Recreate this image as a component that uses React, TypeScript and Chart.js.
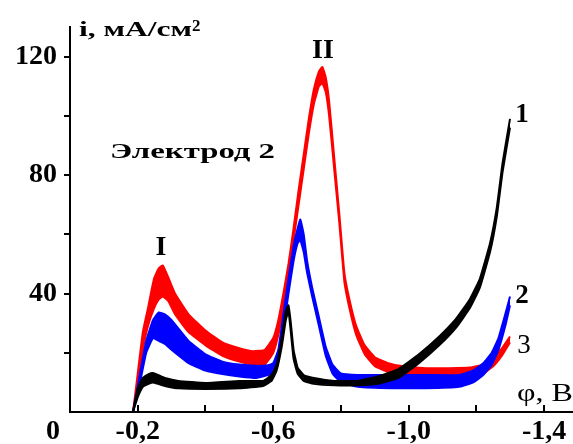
import React, { useEffect, useRef } from "react";
import { Chart, registerables } from "chart.js";

Chart.register(...registerables);

// Curve 1 (black): potential φ, V and lower / upper edge of the noisy trace, mA/cm²
const phi1 = [-0.186, -0.2, -0.215, -0.232, -0.245, -0.26, -0.28, -0.32, -0.4, -0.5, -0.57, -0.595, -0.61, -0.625, -0.637, -0.645, -0.652, -0.66, -0.672, -0.69, -0.72, -0.78, -0.85, -0.91, -0.97, -1.03, -1.09, -1.14, -1.18, -1.21, -1.24, -1.26, -1.277, -1.299];
const lo1 = [0, 5, 8.5, 9.5, 10, 9.5, 8.8, 8, 7.8, 8, 8.8, 10.5, 14, 22, 31, 34, 27, 18, 13, 10.5, 9.5, 9, 9, 9.5, 11.5, 16.5, 22.5, 28.5, 35, 42, 54, 66, 81, 96];
const hi1 = [0, 8, 11.5, 12.8, 13.2, 12.5, 11.5, 10.5, 9.8, 10.5, 10.5, 12.5, 16, 25, 34, 36, 30, 21, 15, 12.5, 11.5, 10.5, 10.5, 12, 14.5, 19.5, 25.5, 31.5, 38, 45, 57, 69, 84, 99];

// Curve 2 (blue)
const phi2 = [-0.186, -0.205, -0.225, -0.245, -0.262, -0.28, -0.3, -0.35, -0.4, -0.45, -0.5, -0.55, -0.585, -0.6, -0.615, -0.63, -0.645, -0.66, -0.672, -0.68, -0.69, -0.7, -0.715, -0.735, -0.755, -0.775, -0.8, -0.85, -0.95, -1.05, -1.15, -1.19, -1.22, -1.245, -1.265, -1.285, -1.299];
const lo2 = [0, 9, 20, 25, 24, 23, 21, 16.5, 14, 12.8, 12, 11.5, 12.5, 13, 17, 28, 40, 51, 57, 58, 54, 47, 39, 29, 19, 13, 10, 8.5, 8, 8, 8.5, 10, 12.5, 16, 21, 29, 36];
const hi2 = [0, 12, 24, 31, 33.6, 33, 31, 24, 19.5, 17, 16, 15.6, 15.8, 16.5, 21, 33, 45, 56, 62, 65, 60, 51, 42, 32, 22, 16, 13, 12.5, 12.5, 12.5, 12.5, 14, 16.5, 20, 25, 33, 39];

// Curve 3 (red)
const phi3 = [-0.186, -0.2, -0.215, -0.23, -0.248, -0.262, -0.274, -0.29, -0.31, -0.35, -0.4, -0.45, -0.5, -0.54, -0.575, -0.6, -0.615, -0.63, -0.645, -0.66, -0.675, -0.69, -0.705, -0.72, -0.735, -0.745, -0.755, -0.765, -0.78, -0.795, -0.81, -0.825, -0.845, -0.87, -0.9, -0.94, -0.98, -1.05, -1.12, -1.18, -1.22, -1.25, -1.275, -1.299];
const lo3 = [0, 10, 21, 29, 35, 38, 39, 37.5, 33, 27, 22.5, 19, 17, 16, 16, 20, 26, 35, 46, 58, 70, 82, 94, 104, 110, 111, 108, 100, 82, 64, 44, 35, 26, 19.5, 15.5, 13.5, 12.5, 12, 12, 12, 13, 15.5, 19, 23.5];
const hi3 = [0, 13, 27, 35, 45, 48.5, 49.5, 45.5, 40, 33, 27.5, 23.5, 21.5, 20.5, 21, 25, 31, 40, 50, 62, 75, 87, 99, 109, 115, 116.5, 113, 105, 86, 67, 47, 38, 29, 22.5, 18.5, 16.5, 15.5, 14.8, 14.8, 15, 16, 18.5, 21.5, 25.5];

const xLabelValues = [-0.2, -0.6, -1.0, -1.4];
const yLabelValues = [40, 80, 120];

const FAMILY = "'Liberation Serif', 'Times New Roman', serif";
const X_PAD = 3;

function band(phi: number[], lo: number[], hi: number[], color: string) {
  const common = {
    borderColor: color,
    backgroundColor: color,
    borderWidth: 2,
    pointRadius: 0,
    tension: 0.12,
  };
  return [
    { ...common, data: phi.map((x, i) => ({ x, y: lo[i] })), fill: false },
    { ...common, data: phi.map((x, i) => ({ x, y: hi[i] })), fill: "-1" },
  ];
}

function drawText(
  ctx: CanvasRenderingContext2D,
  text: string,
  x: number,
  y: number,
  font: string,
  align: CanvasTextAlign,
  baseline: CanvasTextBaseline,
  targetWidth?: number
) {
  ctx.save();
  ctx.font = font;
  ctx.fillStyle = "#000";
  ctx.textAlign = align;
  ctx.textBaseline = baseline;
  if (targetWidth) {
    const w = ctx.measureText(text).width;
    const sx = targetWidth / w;
    ctx.translate(x, y);
    ctx.scale(sx, 1);
    ctx.fillText(text, 0, 0);
  } else {
    ctx.fillText(text, x, y);
  }
  ctx.restore();
}

const annotations = {
  id: "annotations",
  beforeDatasetsDraw(chart: any) {
    const ctx = chart.ctx as CanvasRenderingContext2D;
    const xs = chart.scales.x;
    const ys = chart.scales.y;
    ctx.save();
    ctx.strokeStyle = "#000";
    ctx.lineWidth = 2;
    xs.ticks.forEach((t: any) => {
      if (Math.abs(t.value) < 1e-9) return;
      const px = Math.round(xs.getPixelForValue(t.value));
      ctx.beginPath();
      ctx.moveTo(px, ys.bottom);
      ctx.lineTo(px, ys.bottom - 7);
      ctx.stroke();
    });
    ctx.restore();
  },
  afterDraw(chart: any) {
    const ctx = chart.ctx as CanvasRenderingContext2D;
    const xs = chart.scales.x;
    // "0" label of the x axis, set left of the axis corner
    drawText(ctx, "0", xs.getPixelForValue(0) - 17, xs.top + X_PAD + 16.8, `bold 28px ${FAMILY}`, "center", "middle");
    // axis titles
    drawText(ctx, "i, мА/см", 79, 36, `bold 22px ${FAMILY}`, "left", "alphabetic", 113);
    drawText(ctx, "2", 192, 31, `bold 17px ${FAMILY}`, "left", "alphabetic");
    drawText(ctx, "φ, В", 517, 394, `26px ${FAMILY}`, "left", "middle", 56);
    drawText(ctx, "Электрод 2", 110, 152, `bold 22px ${FAMILY}`, "left", "middle", 165);
    // peak labels
    drawText(ctx, "I", 161, 248, `bold 28px ${FAMILY}`, "center", "middle");
    drawText(ctx, "II", 323, 51, `bold 28px ${FAMILY}`, "center", "middle");
    // curve numbers
    drawText(ctx, "1", 522, 115, `bold 27px ${FAMILY}`, "center", "middle");
    drawText(ctx, "2", 522, 296, `bold 27px ${FAMILY}`, "center", "middle");
    drawText(ctx, "3", 524, 346, `27px ${FAMILY}`, "center", "middle");
  },
};

export default function App() {
  const ref = useRef<HTMLCanvasElement>(null);

  useEffect(() => {
    if (!ref.current) return;
    const datasets = [
      ...band(phi1, lo1, hi1, "#000000"),
      ...band(phi2, lo2, hi2, "#0000ff"),
      ...band(phi3, lo3, hi3, "#ff0000"),
    ];
    const chart = new Chart(ref.current, {
      type: "line",
      data: { datasets: datasets as any },
      options: {
        animation: false,
        responsive: true,
        maintainAspectRatio: false,
        layout: { padding: { top: 27, left: 0, right: 0, bottom: 0 } },
        plugins: {
          legend: { display: false },
          tooltip: { enabled: false },
        },
        scales: {
          x: {
            type: "linear",
            min: -1.485,
            max: 0,
            reverse: true,
            grid: { display: false, drawTicks: false },
            border: { display: true, color: "#000", width: 2 },
            ticks: {
              stepSize: 0.2,
              includeBounds: false,
              autoSkip: false,
              maxRotation: 0,
              padding: X_PAD,
              color: "#000",
              font: { family: FAMILY, size: 28, weight: "bold" },
              callback: (value: any) => {
                const v = Math.round(Number(value) * 10) / 10;
                return xLabelValues.some((l) => Math.abs(l - v) < 1e-6)
                  ? v.toFixed(1).replace(".", ",")
                  : "";
              },
            },
            afterFit: (s: any) => {
              s.height = 32;
            },
          },
          y: {
            type: "linear",
            min: 0,
            max: 130,
            grid: {
              display: true,
              drawOnChartArea: false,
              drawTicks: true,
              tickLength: 6,
              tickWidth: 2,
              lineWidth: 2,
              color: (c: any) => (c.tick && c.tick.value === 0 ? "rgba(0,0,0,0)" : "#000"),
              tickColor: (c: any) => (c.tick && c.tick.value === 0 ? "rgba(0,0,0,0)" : "#000"),
            },
            border: { display: true, color: "#000", width: 2 },
            ticks: {
              stepSize: 20,
              includeBounds: false,
              autoSkip: false,
              padding: 7,
              color: "#000",
              font: { family: FAMILY, size: 28, weight: "bold" },
              callback: (value: any) => (yLabelValues.includes(Number(value)) ? String(value) : ""),
            },
            afterFit: (s: any) => {
              s.width = 70;
            },
          },
        },
      },
      plugins: [annotations],
    });
    return () => chart.destroy();
  }, []);

  return (
    <div style={{ position: "fixed", left: 0, top: 0, width: 573, height: 444, background: "#fff" }}>
      <canvas ref={ref} />
    </div>
  );
}
